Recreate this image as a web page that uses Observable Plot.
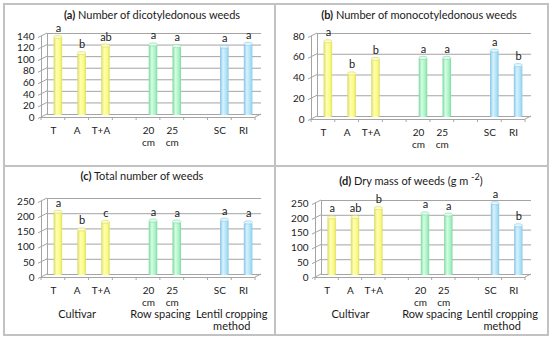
<!DOCTYPE html>
<html><head><meta charset="utf-8">
<script src="https://cdn.jsdelivr.net/npm/d3@7"></script>
<script src="https://cdn.jsdelivr.net/npm/@observablehq/plot@0.6"></script>
<style>
body{margin:0;background:#fff;font-family:Lato,"Open Sans",sans-serif;}
#wrap{position:relative;width:550px;height:338px;overflow:hidden;background:#fff}
.line{position:absolute;background:#c2c2c2}
.title{position:absolute;font-size:11px;color:#1a1a1a;white-space:nowrap;transform:translateX(-50%);line-height:14px}
.title b{font-weight:700}
.panel{position:absolute}
</style></head><body>
<div id="wrap">
<svg width="0" height="0" style="position:absolute">
<defs>
<linearGradient id="gYellow" x1="0" x2="1" y1="0" y2="0">
<stop offset="0" stop-color="#d9d96a"/><stop offset="0.35" stop-color="#ffffb0"/><stop offset="0.75" stop-color="#fafa80"/><stop offset="1" stop-color="#dede68"/>
</linearGradient>
<linearGradient id="gGreen" x1="0" x2="1" y1="0" y2="0">
<stop offset="0" stop-color="#7fd6a0"/><stop offset="0.35" stop-color="#d2ffe2"/><stop offset="0.75" stop-color="#a6f2c4"/><stop offset="1" stop-color="#86d8a6"/>
</linearGradient>
<linearGradient id="gBlue" x1="0" x2="1" y1="0" y2="0">
<stop offset="0" stop-color="#86c4e2"/><stop offset="0.35" stop-color="#d8f2ff"/><stop offset="0.75" stop-color="#ace0f6"/><stop offset="1" stop-color="#8ccbe6"/>
</linearGradient>
</defs>
</svg>
</div>
<script>
// ---- data ----
const categories = ["T", "A", "T+A", "20 cm", "25 cm", "SC", "RI"];
const groups = ["Cultivar", "Cultivar", "Cultivar", "Row spacing", "Row spacing", "Lentil cropping method", "Lentil cropping method"];

const dicotValues = [135, 107, 120, 122, 119, 118, 123];
const dicotLetters = ["a", "b", "ab", "a", "a", "a", "a"];

const monocotValues = [73, 42, 56, 57, 57, 64, 50];
const monocotLetters = ["a", "b", "b", "a", "a", "a", "b"];

const totalValues = [208, 150, 175, 179, 176, 182, 173];
const totalLetters = ["a", "b", "c", "a", "a", "a", "a"];

const dryValues = [195, 196, 226, 208, 204, 243, 168];
const dryLetters = ["a", "ab", "b", "a", "a", "a", "b"];

const yTicksA = [0, 20, 40, 60, 80, 100, 120, 140];
const yTicksB = [0, 20, 40, 60, 80];
const yTicksC = [0, 50, 100, 150, 200, 250];
const yTicksD = [0, 50, 100, 150, 200, 250];

const titleA = "Number of dicotyledonous weeds";
const titleB = "Number of monocotyledonous weeds";
const titleC = "Total number of weeds";
const titleD = "Dry mass of weeds (g m <sup>-2</sup>)";

// ---- helpers ----
const groupFill = {"Cultivar": "url(#gYellow)", "Row spacing": "url(#gGreen)", "Lentil cropping method": "url(#gBlue)"};
const GRID = "#a4a4a4";
const wrap = document.getElementById("wrap");

// slot positions: one empty slot between groups
const slots = [];
{
  let s = 0;
  categories.forEach((c, i) => {
    if (i > 0 && groups[i] !== groups[i - 1]) s += 1;
    slots.push(s);
    s += 1;
  });
}
const nSlots = slots[slots.length - 1] + 1;
const groupNames = [...new Set(groups)];
const groupData = groupNames.map(g => ({
  name: g,
  pos: d3.mean(slots.filter((s, i) => groups[i] === g))
}));

function addLine(l, t, w, h) {
  const d = document.createElement("div");
  d.className = "line";
  Object.assign(d.style, {left: l + "px", top: t + "px", width: w + "px", height: h + "px"});
  wrap.appendChild(d);
}

function makePanel(cfg, values, letters, ticks, tag, title, showGroups) {
  const data = categories.map((c, i) => ({cat: c, group: groups[i], v: values[i], letter: letters[i], pos: slots[i]}));
  const yMax = ticks[ticks.length - 1];
  const marks = [
    Plot.ruleY(ticks, {y: d => d, dx: 6, dy: -3, stroke: GRID}),
    Plot.ruleX([-0.5], {y1: 0, y2: yMax, dx: 6, dy: -3, stroke: GRID}),
    Plot.ruleX([-0.5], {y1: 0, y2: yMax, stroke: GRID}),
    Plot.ruleY([0], {stroke: GRID}),
    Plot.rectY(data, {x1: d => d.pos - 0.18, x2: d => d.pos + 0.18, y: "v", dx: 5, dy: -2, fill: d => groupFill[d.group], rx: 1.5}),
    Plot.text(data, {x: "pos", y: "v", text: "letter", dx: 5, dy: -11, fontSize: 11, fill: "#1a1a1a"}),
    Plot.axisY(ticks, {tickSize: 0, tickPadding: 7, fontSize: 10, fill: "#1a1a1a", label: null}),
    Plot.axisX(slots, {tickSize: 0, tickPadding: 8, fontSize: 10, lineHeight: 1.2, fill: "#1a1a1a", label: null,
      tickFormat: s => categories[slots.indexOf(s)].replace(" ", "\n")})
  ];
  if (showGroups) {
    marks.push(Plot.text(groupData, {x: "pos", y: () => 0, text: d => d.name.replace(" method", "\nmethod"),
      dy: 32, lineAnchor: "top", lineHeight: 1.1, fontSize: 11, fill: "#1a1a1a"}));
  }
  const chart = Plot.plot({
    width: cfg.width, height: cfg.height,
    marginTop: cfg.mt, marginBottom: cfg.mb, marginLeft: cfg.ml, marginRight: cfg.mr,
    x: {domain: [-0.5, nSlots - 0.5], axis: null},
    y: {domain: [0, yMax], axis: null},
    color: {type: "identity"},
    style: {fontFamily: "Lato, 'Open Sans', sans-serif", background: "transparent", overflow: "visible"},
    marks
  });
  // 3D depth connectors drawn with the chart's own scales
  const xs = chart.scale("x"), ys = chart.scale("y");
  const svg = d3.select(chart);
  const g = svg.append("g").attr("stroke", GRID).attr("fill", "none");
  const x0 = xs.apply(-0.5), x1 = xs.apply(nSlots - 0.5);
  ticks.forEach(t => {
    const y = ys.apply(t);
    g.append("line").attr("x1", x0 - 3).attr("x2", x0 + 6).attr("y1", y + 1.5).attr("y2", y - 3);
  });
  const yb = ys.apply(0);
  g.append("line").attr("x1", x1).attr("x2", x1 + 6).attr("y1", yb).attr("y2", yb - 3);
  for (let s = 0; s <= nSlots; s++) {
    const xx = xs.apply(s - 0.5);
    g.append("line").attr("x1", xx).attr("x2", xx).attr("y1", yb).attr("y2", yb + 3);
  }
  // cylinder tops
  data.forEach(d => {
    const cx = (xs.apply(d.pos - 0.18) + xs.apply(d.pos + 0.18)) / 2 + 5;
    const rw = (xs.apply(d.pos + 0.18) - xs.apply(d.pos - 0.18)) / 2;
    svg.append("ellipse").attr("cx", cx).attr("cy", ys.apply(d.v) - 2).attr("rx", rw).attr("ry", 1.6)
      .attr("fill", d.group === "Cultivar" ? "#ffffc4" : d.group === "Row spacing" ? "#e0fff0" : "#e4f6ff")
      .attr("stroke", d.group === "Cultivar" ? "#d6d66a" : d.group === "Row spacing" ? "#86d6a6" : "#8cc8e4")
      .attr("stroke-width", 0.6);
  });
  const holder = document.createElement("div");
  holder.className = "panel";
  holder.style.left = cfg.left + "px";
  holder.style.top = cfg.top + "px";
  holder.appendChild(chart);
  wrap.appendChild(holder);
  const t = document.createElement("div");
  t.className = "title";
  t.style.left = cfg.titleX + "px";
  t.style.top = cfg.titleY + "px";
  t.innerHTML = "<b>" + tag + "</b> " + title;
  wrap.appendChild(t);
}

// ---- frame ----
addLine(3, 3, 546, 2);
addLine(3, 334, 546, 2);
addLine(3, 3, 2, 333);
addLine(547, 3, 2, 333);
addLine(274, 3, 2, 333);
addLine(3, 165, 546, 2);

makePanel({left: 4, top: 24, width: 271, height: 141, mt: 12, mb: 48, ml: 37, mr: 20, titleX: 152, titleY: 8},
  dicotValues, dicotLetters, yTicksA, "(a)", titleA, false);
makePanel({left: 276, top: 24, width: 271, height: 141, mt: 12, mb: 46, ml: 35, mr: 22, titleX: 419, titleY: 8},
  monocotValues, monocotLetters, yTicksB, "(b)", titleB, false);
makePanel({left: 4, top: 186, width: 271, height: 148, mt: 15, mb: 57, ml: 37, mr: 20, titleX: 142, titleY: 169},
  totalValues, totalLetters, yTicksC, "(c)", titleC, true);
makePanel({left: 276, top: 186, width: 271, height: 148, mt: 17, mb: 57, ml: 39, mr: 22, titleX: 411, titleY: 170},
  dryValues, dryLetters, yTicksD, "(d)", titleD, true);
</script>
</body></html>
